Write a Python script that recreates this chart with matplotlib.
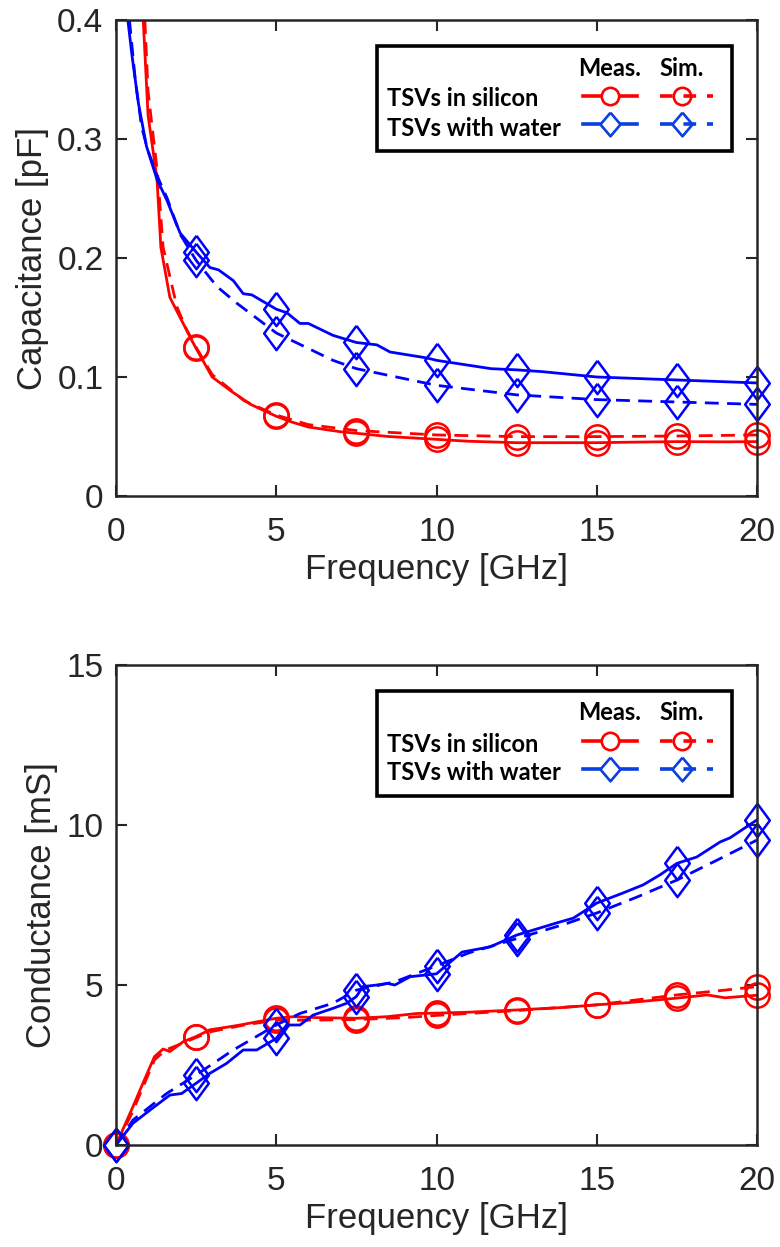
import matplotlib
matplotlib.use("Agg")
import matplotlib.pyplot as plt
from matplotlib.lines import Line2D
from matplotlib.patches import Rectangle

plt.rcParams['font.family'] = ['Liberation Sans', 'DejaVu Sans']

RED = '#ff0000'
BLUE = '#0000ff'
AXC = '#262626'

# ---- capacitance (top) ----
cap_f_si_meas = [0.85, 1.0, 1.28, 1.4, 1.68, 2.0, 2.4, 2.5, 3.0, 3.6, 4.2, 5.0, 5.5, 6.0, 6.5, 7.0, 7.5,
                 8.5, 10, 11, 12.5, 14, 15, 16, 17.5, 19, 20]
cap_si_meas = [0.40, 0.32, 0.266, 0.209, 0.167, 0.150, 0.129, 0.124, 0.100, 0.088, 0.077, 0.067, 0.062, 0.058,
               0.056, 0.054, 0.0527, 0.050, 0.0476, 0.046, 0.0448, 0.0448, 0.0448, 0.0452, 0.0457, 0.0455, 0.0457]
cap_f_si_sim = [0.9, 1.0, 1.3, 1.47, 1.9, 2.2, 2.5, 3.0, 4.0, 5.0, 6.0, 7.5, 10, 12.5, 15, 17.5, 20]
cap_si_sim = [0.40, 0.34, 0.27, 0.209, 0.159, 0.14, 0.125, 0.102, 0.080, 0.068, 0.060, 0.055, 0.0513,
              0.0499, 0.0499, 0.0504, 0.0513]
cap_f_w_meas = [0.37, 0.5, 0.7, 0.95, 1.28, 1.58, 2.0, 2.5, 2.93, 3.2, 3.66, 3.97, 4.24, 5.0, 5.33, 5.74,
                6.0, 6.77, 7.5, 8.14, 8.55, 9.7, 10, 11.7, 12.5, 13.3, 15, 17.5, 20]
cap_w_meas = [0.40, 0.37, 0.33, 0.294, 0.266, 0.249, 0.221, 0.205, 0.192, 0.19, 0.181, 0.17, 0.169, 0.157,
              0.154, 0.145, 0.145, 0.135, 0.129, 0.127, 0.121, 0.116, 0.114, 0.107, 0.106, 0.1045, 0.100,
              0.0975, 0.095]
cap_f_w_sim = [0.42, 0.6, 0.8, 1.0, 1.3, 1.6, 2.0, 2.5, 3.15, 3.77, 5.0, 6.77, 7.5, 10, 12.5, 15, 17.5, 20]
cap_w_sim = [0.40, 0.35, 0.31, 0.29, 0.268, 0.25, 0.22, 0.198, 0.176, 0.162, 0.137, 0.114, 0.107, 0.093,
             0.085, 0.081, 0.079, 0.077]

cap_mk_f = [2.5, 5, 7.5, 10, 12.5, 15, 17.5, 20]
cap_mk_si_meas = [0.124, 0.067, 0.0527, 0.0476, 0.0448, 0.0448, 0.0457, 0.0457]
cap_mk_si_sim = [0.125, 0.068, 0.055, 0.0513, 0.0499, 0.0499, 0.0504, 0.0513]
cap_mk_w_meas = [0.205, 0.157, 0.129, 0.114, 0.106, 0.100, 0.0975, 0.095]
cap_mk_w_sim = [0.198, 0.137, 0.107, 0.093, 0.085, 0.081, 0.079, 0.077]

# ---- conductance (bottom) ----
g_f_si_meas = [0, 0.53, 0.84, 1.2, 1.47, 1.68, 2.1, 2.5, 2.93, 3.45, 3.87, 4.4, 5.0, 5.53, 6.27, 7.5, 8.46,
               9.39, 10, 11, 12.5, 14, 15, 16, 17.5, 18.45, 19, 20]
g_si_meas = [0, 1.2, 1.93, 2.76, 3.0, 2.92, 3.23, 3.39, 3.6, 3.68, 3.75, 3.85, 3.96, 4.01, 3.98, 3.96, 4.01,
             4.11, 4.12, 4.15, 4.22, 4.3, 4.38, 4.45, 4.59, 4.69, 4.6, 4.68]
g_f_si_sim = [0, 0.5, 0.9, 1.2, 1.55, 2.0, 2.5, 3.0, 4.0, 5.0, 6.0, 7.5, 9.0, 10, 12.5, 15, 17.5, 19, 20]
g_si_sim = [0, 1.0, 1.95, 2.66, 2.97, 3.15, 3.36, 3.55, 3.75, 3.9, 3.9, 3.92, 3.98, 4.05, 4.2, 4.38,
            4.69, 4.84, 4.95]
g_f_w_meas = [0, 0.53, 1.06, 1.68, 2.05, 2.5, 2.93, 3.45, 3.97, 4.39, 5.0, 5.33, 5.74, 6.15, 6.77, 7.2,
              7.5, 7.7, 8.14, 8.46, 8.7, 9.18, 10, 10.8, 11.67, 12.5, 13.75, 14.27, 15, 15.83, 16.45,
              16.97, 17.5, 18.12, 18.85, 19.16, 20]
g_w_meas = [0, 0.68, 1.09, 1.56, 1.61, 1.93, 2.24, 2.55, 2.97, 2.97, 3.33, 3.75, 3.75, 4.06, 4.27, 4.43,
            4.64, 4.95, 5.0, 5.05, 5.0, 5.26, 5.35, 6.03, 6.19, 6.56, 6.94, 7.09, 7.56, 7.88, 8.13, 8.44,
            8.8, 9.0, 9.47, 9.6, 10.16]
g_f_w_sim = [0, 0.53, 1.58, 2.5, 3.66, 5.0, 5.74, 6.77, 7.5, 8.7, 10, 11, 12.5, 14, 15, 16.26, 17.5,
             18.75, 20]
g_w_sim = [0, 0.78, 1.61, 2.19, 2.97, 3.75, 4.11, 4.43, 4.84, 5.1, 5.6, 6.0, 6.45, 6.9, 7.25, 7.75, 8.28,
           8.9, 9.53]

g_mk_f = [0, 2.5, 5, 7.5, 10, 12.5, 15, 17.5, 20]
g_mk_si_meas = [0, 3.39, 3.96, 3.96, 4.12, 4.22, 4.38, 4.59, 4.68]
g_mk_si_sim = [0, 3.36, 3.9, 3.92, 4.05, 4.2, 4.38, 4.69, 4.95]
g_mk_w_meas = [0, 1.93, 3.33, 4.64, 5.35, 6.56, 7.56, 8.8, 10.16]
g_mk_w_sim = [0, 2.19, 3.75, 4.84, 5.6, 6.45, 7.25, 8.28, 9.53]

LW = 2.0
MEW = 1.8
# MATLAB-like diamond (a little taller than wide)
DIAMOND = [(0, 1), (0.74, 0), (0, -1), (-0.74, 0), (0, 1)]
KEY_DIAMOND = [(0, 1), (0.85, 0), (0, -1), (-0.85, 0), (0, 1)]


def draw_series(ax, f, y, mf, my, color, ls, marker, ms):
    ax.plot(f, y, color=color, ls=ls, lw=LW, dashes=(5, 3) if ls == '--' else (None, None))
    ax.plot(mf, my, ls='none', marker=marker, ms=ms, mfc='none', mec=color, mew=MEW, clip_on=False)


def style_axes(ax, ylim, yticks, yticklabels, ylabel):
    ax.set_xlim(0, 20)
    ax.set_ylim(*ylim)
    ax.set_xticks([0, 5, 10, 15, 20])
    ax.set_yticks(yticks)
    ax.set_yticklabels(yticklabels)
    ax.tick_params(direction='in', length=8, width=1.5, top=True, right=True, labelsize=24,
                   colors=AXC, labelcolor=AXC)
    ax.tick_params(axis='x', pad=15)
    ax.tick_params(axis='y', pad=9)
    for s in ax.spines.values():
        s.set_linewidth(1.8)
        s.set_color(AXC)
    ax.set_xlabel('Frequency [GHz]', fontsize=25, color=AXC, labelpad=4)
    ax.set_ylabel(ylabel, fontsize=25, color=AXC, labelpad=6)


def draw_key(ax, fig):
    # custom key box, positions in pixels from the axes top-left corner
    bb = ax.get_position()
    W = bb.width * fig.get_figwidth() * fig.dpi
    H = bb.height * fig.get_figheight() * fig.dpi

    def fx(px):
        return px / W

    def fy(py):
        return 1 - py / H

    ax.add_patch(Rectangle((fx(261), fy(131)), fx(355), 105 / H, transform=ax.transAxes,
                           fill=True, fc='white', ec='black', lw=2.6, zorder=5))
    kw = dict(transform=ax.transAxes, fontsize=17, fontweight='bold', family=['Lato', 'DejaVu Sans'],
              color='black', zorder=6)
    ax.text(fx(494), fy(48), 'Meas.', ha='center', va='center', **kw)
    ax.text(fx(566), fy(48), 'Sim.', ha='center', va='center', **kw)
    ax.text(fx(271), fy(79), 'TSVs in silicon', ha='left', va='center', **kw)
    ax.text(fx(271), fy(108), 'TSVs with water', ha='left', va='center', **kw)
    rows = [(76, RED, 'o', 12.5), (104, '#0a3fe0', KEY_DIAMOND, 17)]
    for py, c, m, ms in rows:
        ax.add_line(Line2D([fx(467), fx(521)], [fy(py), fy(py)], transform=ax.transAxes, color=c, lw=2.6,
                           zorder=6))
        ax.add_line(Line2D([fx(494)], [fy(py)], transform=ax.transAxes, ls='none', marker=m, ms=ms,
                           mfc='white', mec=c, mew=1.9, zorder=6))
        ax.add_line(Line2D([fx(544), fx(597)], [fy(py), fy(py)], transform=ax.transAxes, color=c, lw=2.6,
                           dashes=(3.5, 3), zorder=6))
        ax.add_line(Line2D([fx(566)], [fy(py)], transform=ax.transAxes, ls='none', marker=m, ms=ms,
                           mfc='none', mec=c, mew=1.9, zorder=6))


fig = plt.figure(figsize=(7.8, 12.47), dpi=100)
ax1 = fig.add_axes([116 / 780, 1 - 496 / 1247, 641 / 780, 476 / 1247])
ax2 = fig.add_axes([116 / 780, 1 - 1145 / 1247, 641 / 780, 480 / 1247])

draw_series(ax1, cap_f_si_meas, cap_si_meas, cap_mk_f, cap_mk_si_meas, RED, '-', 'o', 17.5)
draw_series(ax1, cap_f_si_sim, cap_si_sim, cap_mk_f, cap_mk_si_sim, RED, '--', 'o', 17.5)
draw_series(ax1, cap_f_w_meas, cap_w_meas, cap_mk_f, cap_mk_w_meas, BLUE, '-', DIAMOND, 24)
draw_series(ax1, cap_f_w_sim, cap_w_sim, cap_mk_f, cap_mk_w_sim, BLUE, '--', DIAMOND, 24)
style_axes(ax1, (0, 0.4), [0, 0.1, 0.2, 0.3, 0.4], ['0', '0.1', '0.2', '0.3', '0.4'], 'Capacitance [pF]')
draw_key(ax1, fig)

draw_series(ax2, g_f_si_meas, g_si_meas, g_mk_f, g_mk_si_meas, RED, '-', 'o', 17.5)
draw_series(ax2, g_f_si_sim, g_si_sim, g_mk_f, g_mk_si_sim, RED, '--', 'o', 17.5)
draw_series(ax2, g_f_w_meas, g_w_meas, g_mk_f, g_mk_w_meas, BLUE, '-', DIAMOND, 24)
draw_series(ax2, g_f_w_sim, g_w_sim, g_mk_f, g_mk_w_sim, BLUE, '--', DIAMOND, 24)
style_axes(ax2, (0, 15), [0, 5, 10, 15], ['0', '5', '10', '15'], 'Conductance [mS]')
draw_key(ax2, fig)

fig.savefig('out.png', dpi=100, facecolor='white')
